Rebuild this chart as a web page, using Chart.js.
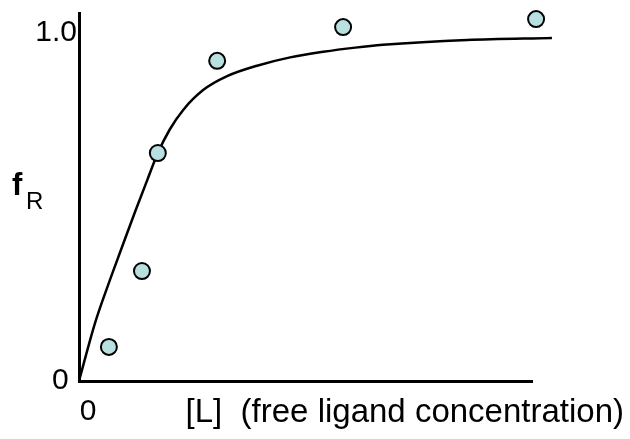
<!DOCTYPE html>
<html>
<head>
    <meta charset="UTF-8">
    <title>Fraction bound vs free ligand</title>
    <script src="https://cdn.jsdelivr.net/npm/chart.js@4/dist/chart.umd.min.js"></script>
    <style>
        body {
            margin: 0;
            background: white;
        }
        .wrap {
            width: 630px;
            height: 439px;
        }
    </style>
</head>
<body>
<div class="wrap">
    <canvas id="bindingChart" width="630" height="439"></canvas>
</div>

<script>
    // fitted saturation curve
    const curveL = [0, 0.35, 0.64, 0.95, 1.24, 1.50, 1.74, 2.00, 2.30, 2.74, 3.27, 3.93, 4.66, 5.39, 6.10, 6.71, 8.57, 10.44];
    const curveF = [0, 0.165, 0.275, 0.385, 0.487, 0.575, 0.655, 0.722, 0.779, 0.836, 0.876, 0.906, 0.930, 0.946, 0.958, 0.966, 0.980, 0.986];

    // measured points
    const pointL = [0.66, 1.39, 1.74, 3.05, 5.83, 10.09];
    const pointF = [0.098, 0.316, 0.655, 0.92, 1.017, 1.04];

    const xTicks = [0];
    const xTickLabels = ['0'];
    const yTicks = [0, 1];
    const yTickLabels = ['0 ', '1.0'];

    const FONT = '"Liberation Sans", Arial, sans-serif';

    const toXY = (xs, ys) => xs.map((x, i) => ({ x: x, y: ys[i] }));

    // axis titles: bold f with subscript R, and the x caption
    const titlesPlugin = {
        id: 'titles',
        afterDraw(chart) {
            const ctx = chart.ctx;
            ctx.save();
            ctx.fillStyle = '#000';
            ctx.textBaseline = 'alphabetic';
            ctx.textAlign = 'left';
            ctx.font = 'bold 31px ' + FONT;
            ctx.fillText('f', 12, 195);
            ctx.font = '24px ' + FONT;
            ctx.fillText('R', 26, 209);
            ctx.font = '33px ' + FONT;
            ctx.textAlign = 'right';
            ctx.fillText('[L]  (free ligand concentration)', 624, 422);
            ctx.restore();
        }
    };

    new Chart(document.getElementById('bindingChart'), {
        type: 'scatter',
        data: {
            datasets: [{
                label: 'fit',
                data: toXY(curveL, curveF),
                showLine: true,
                borderColor: '#000',
                borderWidth: 2.5,
                pointRadius: 0,
                cubicInterpolationMode: 'monotone',
                clip: false,
                order: 2
            }, {
                label: 'data',
                data: toXY(pointL, pointF),
                showLine: false,
                pointRadius: 8,
                pointBackgroundColor: '#b9e0e0',
                pointBorderColor: '#000',
                pointBorderWidth: 2,
                clip: false,
                order: 1
            }]
        },
        options: {
            responsive: false,
            animation: false,
            layout: {
                padding: { left: 0, right: 98, top: 13, bottom: 0 }
            },
            plugins: {
                legend: { display: false },
                tooltip: { enabled: false }
            },
            scales: {
                x: {
                    type: 'linear',
                    min: 0,
                    max: 10,
                    grid: { display: false, drawTicks: false },
                    border: { display: true, color: '#000', width: 3 },
                    afterBuildTicks: s => { s.ticks = xTicks.map(v => ({ value: v })); },
                    afterFit: s => { s.height = 58; s.paddingLeft = 0; s.paddingRight = 0; },
                    ticks: {
                        color: '#000',
                        font: { family: FONT, size: 30 },
                        padding: 13,
                        labelOffset: 9,
                        callback: (v, i) => xTickLabels[i]
                    }
                },
                y: {
                    type: 'linear',
                    min: 0,
                    max: 1.0575,
                    grid: { display: false, drawTicks: false },
                    border: { display: true, color: '#000', width: 3 },
                    afterBuildTicks: s => { s.ticks = yTicks.map(v => ({ value: v })); },
                    afterFit: s => { s.width = 79; s.paddingTop = 0; s.paddingBottom = 0; },
                    ticks: {
                        color: '#000',
                        font: { family: FONT, size: 30 },
                        padding: 2,
                        callback: (v, i) => yTickLabels[i]
                    }
                }
            }
        },
        plugins: [titlesPlugin]
    });
</script>
</body>
</html>
